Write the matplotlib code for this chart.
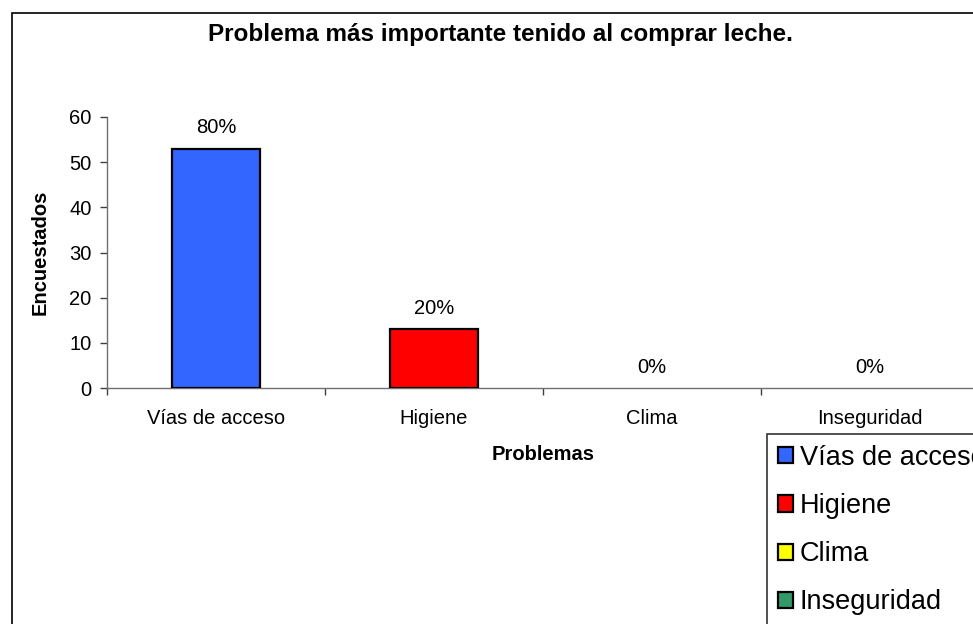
import matplotlib
matplotlib.use("Agg")
import matplotlib.pyplot as plt
from matplotlib.patches import Patch, Rectangle

plt.rcParams['font.family'] = ['Liberation Sans', 'DejaVu Sans']

categorias = ['Vías de acceso', 'Higiene', 'Clima', 'Inseguridad']
encuestados = [53, 13, 0, 0]
porcentajes = ['80%', '20%', '0%', '0%']
colores = ['#3366FF', '#FF0000', '#FFFF00', '#339966']
yticks = [0, 10, 20, 30, 40, 50, 60]

W, H = 973, 624
fig = plt.figure(figsize=(W / 100, H / 100), dpi=100)

# marco exterior del grafico (se sale por la derecha y por abajo)
fig.patches.append(Rectangle((12 / W, -0.2), 2.0, (H - 13) / H + 0.2,
                             transform=fig.transFigure, fill=False,
                             edgecolor='black', linewidth=1.2))

ax = fig.add_axes([107 / W, (H - 388) / H, (979 - 107) / W, (388 - 117) / H])
x = list(range(len(categorias)))
# las barras en cero no llevan borde
bordes = [1.6 if v > 0 else 0 for v in encuestados]
ax.bar(x, encuestados, width=0.4, color=colores, edgecolor='black',
       linewidth=bordes, zorder=3)
for xi, v, p in zip(x, encuestados, porcentajes):
    ax.annotate(p, (xi, v), xytext=(0, 11), textcoords='offset points',
                ha='center', va='baseline', fontsize=14.5)

ax.set_xlim(-0.5, 3.5)
ax.set_ylim(0, 60)
ax.set_yticks(yticks)
ax.set_xticks(x)
ax.set_xticklabels(categorias)
ax.set_xticks([-0.5, 0.5, 1.5, 2.5, 3.5], minor=True)

for s in ['top', 'right']:
    ax.spines[s].set_visible(False)
for s in ['left', 'bottom']:
    ax.spines[s].set_color('#707070')
    ax.spines[s].set_linewidth(1.0)

ax.tick_params(axis='y', direction='out', length=5, width=1, color='#404040',
               labelsize=14.5, pad=6)
ax.tick_params(axis='x', which='major', length=0, labelsize=14.5, pad=15)
ax.tick_params(axis='x', which='minor', direction='out', length=5, width=1,
               color='#404040')

ax.set_ylabel('Encuestados', fontsize=14.5, fontweight='bold', labelpad=14)
ax.set_xlabel('Problemas', fontsize=14.5, fontweight='bold', labelpad=12)

fig.text(500 / W, 1 - 34 / H, 'Problema más importante tenido al comprar leche.',
         ha='center', va='center', fontsize=17.5, fontweight='bold')

handles = [Patch(facecolor=c, edgecolor='black', linewidth=1.6) for c in colores]
leg = fig.legend(handles, categorias, loc='upper left',
                 bbox_to_anchor=(767 / W, 1 - 434 / H), borderaxespad=0,
                 fontsize=19.5, frameon=True, fancybox=False, edgecolor='black',
                 handlelength=0.55, handleheight=0.55, handletextpad=0.25,
                 labelspacing=0.82, borderpad=0.4)
leg.get_frame().set_linewidth(1.2)

fig.savefig('out.png', dpi=100)
